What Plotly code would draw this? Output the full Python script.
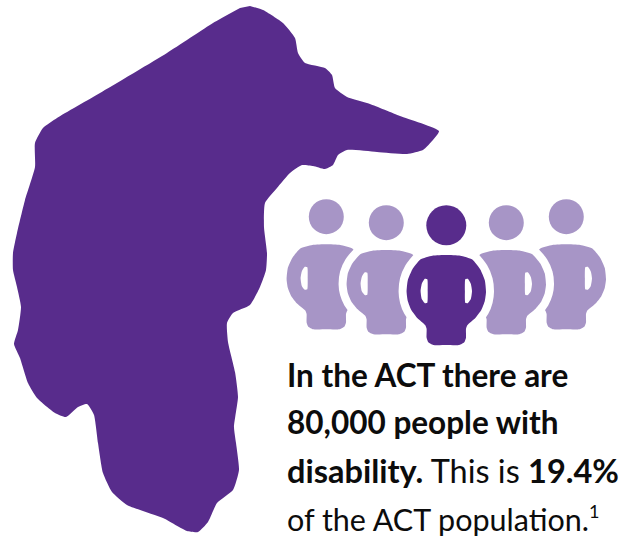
import plotly.graph_objects as go

WIDTH, HEIGHT = 621, 539
DARK = "#582c8c"
LIGHT = "#a795c6"
INK = "#0c0c0c"

# Outline of the territory, clockwise from the northern corner
territory_x = [250, 263, 283, 295, 298, 305, 325, 332, 335, 347, 370, 400, 439, 433, 423, 407,
               377, 347, 338, 333, 325, 313, 302, 290, 277, 265, 264, 267, 266, 260, 250, 233,
               227, 228, 235, 238, 234, 236, 239, 233, 217, 208, 198, 187, 163, 127, 112, 103,
               98, 94, 87, 78, 66, 55, 37, 28, 20, 14, 18, 21, 17, 13, 13, 17, 25, 35, 35, 43,
               57, 100, 167, 213, 240]
territory_y = [6, 10, 23, 38, 53, 63, 68, 75, 88, 97, 104, 116, 131, 140, 150, 154,
               152, 150, 155, 165, 169, 166, 165, 173, 188, 203, 227, 253, 270, 287, 305, 313,
               323, 342, 372, 397, 427, 443, 470, 490, 503, 522, 532, 531, 518, 505, 492, 473,
               443, 415, 404, 407, 417, 413, 398, 383, 358, 344, 330, 307, 287, 270, 253, 233, 200, 167, 143, 128,
               118, 93, 53, 23, 8]

# Figures in the group: body axis, top of body, body height, head centre, head radius
person_names = ["far left", "left", "right", "far right", "centre"]
person_axis = [326.3, 386.3, 506.3, 566.3, 446.3]
person_top = [244.3, 250.0, 250.0, 244.3, 255.0]
person_height = [85.0, 84.3, 84.3, 85.0, 90.0]
head_y = [216.7, 222.7, 222.7, 216.7, 225.3]
head_radius = [17.5, 17.5, 17.5, 17.5, 20.0]
person_color = [LIGHT, LIGHT, LIGHT, LIGHT, DARK]
halo_width = [0, 16, 16, 0, 16]

# Right half of a body: offset from axis, fraction of body height
body_dx = [0, 14, 26, 34, 38.5, 39.7, 38.5, 35, 29, 21, 19.7, 19.7, 18, 13, 0]
body_dy = [0, 0.008, 0.05, 0.16, 0.28, 0.41, 0.51, 0.61, 0.70, 0.78, 0.82, 0.92, 0.97, 1, 1]

# Arm gap on the right side of a body
gap_dx = [19, 21.5, 24.5, 25.7, 24.5, 21.5, 19, 18.6, 19]
gap_dy = [0.27, 0.265, 0.32, 0.40, 0.49, 0.535, 0.53, 0.40, 0.27]

# Caption, one entry per line, with its vertical centre and size
caption_lines = [
    "<b>In the ACT there are</b>",
    "<b>80,000 people with</b>",
    "<b>disability.</b> This is <b>19.4%</b>",
    "of the ACT population.<sup><span style=\"font-size:18px\">1</span></sup>",
]
caption_y = [375, 422, 470, 518]
caption_size = [31.5, 31.5, 32.5, 30.5]


def closed_area(xs, ys, fill, line_color=None, line_width=0, shape="spline"):
    return go.Scatter(
        x=xs, y=ys, mode="lines", fill="toself", fillcolor=fill,
        line=dict(color=line_color or fill, width=line_width, shape=shape, smoothing=0.5),
        hoverinfo="skip", showlegend=False,
    )


def body_outline(i):
    right_x = [person_axis[i] + d for d in body_dx]
    left_x = [person_axis[i] - d for d in reversed(body_dx[:-1])]
    ys = [person_top[i] + f * person_height[i] for f in body_dy]
    return right_x + left_x, ys + list(reversed(ys[:-1]))


def gap_outline(i, side):
    xs = [person_axis[i] + side * d for d in gap_dx]
    ys = [person_top[i] + f * person_height[i] for f in gap_dy]
    return xs, ys


fig = go.Figure()
fig.add_trace(closed_area(territory_x, territory_y, DARK))

# Outer figures first; each inner figure's white halo trims the one behind it
for i in [0, 3, 1, 2, 4]:
    xs, ys = body_outline(i)
    if halo_width[i]:
        fig.add_trace(closed_area(xs, ys, "#ffffff", "#ffffff", halo_width[i]))
    fig.add_trace(closed_area(xs, ys, person_color[i]))
    for side in (-1, 1):
        gx, gy = gap_outline(i, side)
        fig.add_trace(closed_area(gx, gy, "#ffffff"))

fig.add_trace(go.Scatter(
    x=person_axis, y=head_y, mode="markers",
    marker=dict(size=[2 * r for r in head_radius], color=person_color, opacity=1, line=dict(width=0)),
    hoverinfo="skip", showlegend=False,
))

for line, y, size in zip(caption_lines, caption_y, caption_size):
    fig.add_annotation(
        x=285, y=y, xref="x", yref="y", text=line, showarrow=False,
        xanchor="left", yanchor="middle", align="left",
        font=dict(family="Lato", size=size, color=INK),
    )

fig.update_layout(
    width=WIDTH, height=HEIGHT, margin=dict(l=0, r=0, t=0, b=0),
    paper_bgcolor="#ffffff", plot_bgcolor="#ffffff", showlegend=False,
    xaxis=dict(range=[0, WIDTH], visible=False, fixedrange=True),
    yaxis=dict(range=[HEIGHT, 0], visible=False, fixedrange=True),
)
fig.write_html("out.html", config={"displayModeBar": False})
